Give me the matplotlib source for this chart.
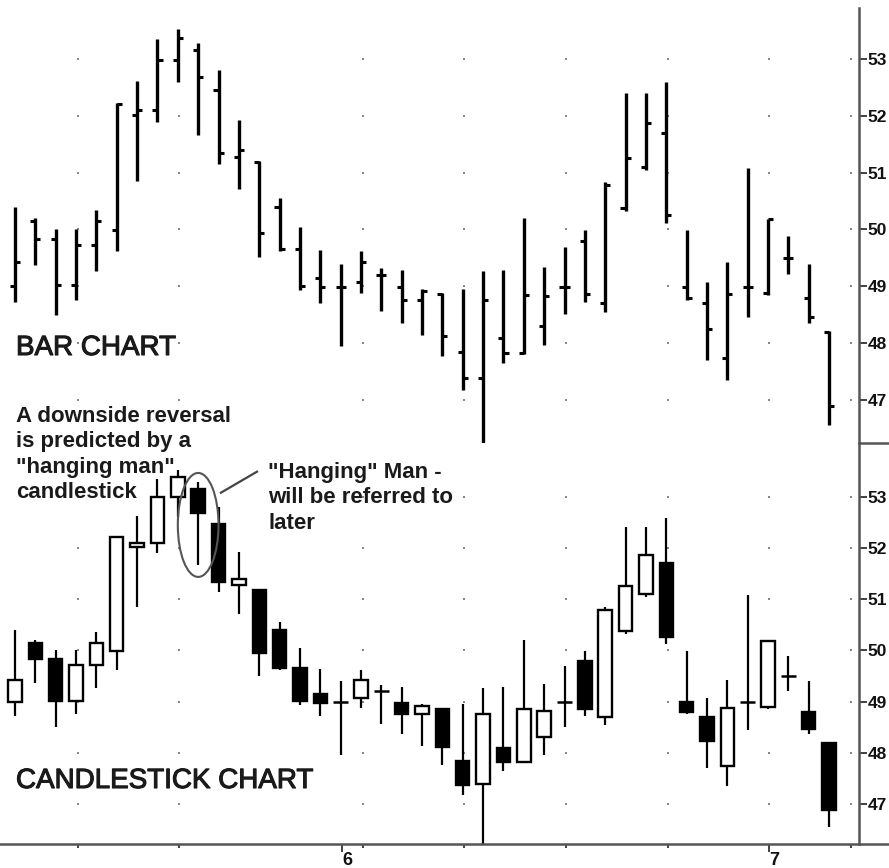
import numpy as np
import matplotlib
matplotlib.use('Agg')
import matplotlib.pyplot as plt
import matplotlib.patheffects as pe
from matplotlib.patches import Rectangle, Ellipse
from matplotlib.lines import Line2D

plt.rcParams['font.family'] = ['Liberation Sans', 'DejaVu Sans']

# daily prices
opens = [49.00, 50.15, 49.83, 49.02, 49.72, 49.99, 52.01, 52.10, 52.99, 53.16,
         52.46, 51.27, 51.18, 50.39, 49.66, 49.15, 48.99, 49.08, 49.20, 48.98,
         48.75, 48.86, 47.84, 47.39, 48.09, 47.82, 48.30, 48.99, 49.80, 48.70,
         50.38, 51.10, 51.70, 48.99, 48.70, 47.74, 48.99, 48.89, 49.50, 48.79,
         48.19]
highs = [50.39, 50.20, 50.00, 50.00, 50.35, 52.22, 52.62, 53.35, 53.53, 53.29,
         52.80, 51.93, 51.20, 50.55, 50.04, 49.64, 49.40, 49.62, 49.33, 49.29,
         48.95, 48.88, 48.96, 49.27, 49.29, 50.20, 49.34, 49.69, 49.99, 50.84,
         52.41, 52.41, 52.59, 49.99, 49.08, 49.43, 51.08, 50.19, 49.89, 49.40,
         48.22]
lows = [48.72, 49.37, 48.50, 48.76, 49.27, 49.62, 50.85, 51.90, 52.60, 51.67,
        51.15, 50.72, 49.51, 49.62, 48.94, 48.71, 47.95, 48.88, 48.57, 48.36,
        48.14, 47.77, 47.18, 46.00, 47.65, 47.81, 47.96, 48.51, 48.72, 48.54,
        50.33, 51.05, 50.12, 48.76, 47.70, 47.35, 48.45, 48.85, 49.21, 48.36,
        46.55]
closes = [49.43, 49.83, 49.02, 49.72, 50.15, 52.21, 52.10, 52.99, 53.38, 52.68,
          51.34, 51.40, 49.94, 49.65, 49.01, 48.98, 48.99, 49.43, 49.20, 48.75,
          48.91, 48.12, 47.38, 48.76, 47.83, 48.85, 48.82, 48.99, 48.86, 50.78,
          51.25, 51.87, 50.26, 48.79, 48.24, 48.87, 48.99, 50.19, 49.50, 48.46,
          46.89]
days = np.arange(len(opens))

price_ticks = [47, 48, 49, 50, 51, 52, 53]
grid_x = [3.1, 8.06, 17.1, 22.06, 27.08, 32.09, 37.05, 41.08]
month_ticks = [16.07, 37.05]
month_labels = ['6', '7']

W, H = 889, 868
fig = plt.figure(figsize=(W / 100, H / 100), dpi=100)


def px_box(x0, y0, x1, y1):
    return [x0 / W, 1 - y1 / H, (x1 - x0) / W, (y1 - y0) / H]


ax1 = fig.add_axes(px_box(0, 8, 859, 443))
ax2 = fig.add_axes(px_box(0, 443, 859, 844))
ax1.set_ylim(46.24, 53.90)
ax2.set_ylim(46.22, 54.05)

for ax in (ax1, ax2):
    ax.set_xlim(-0.737, 41.47)
    for s in ('top', 'left', 'bottom'):
        ax.spines[s].set_visible(False)
    ax.spines['right'].set_color('#555555')
    ax.spines['right'].set_linewidth(1.8)
    ax.yaxis.tick_right()
    ax.set_yticks(price_ticks)
    ax.set_yticklabels([str(t) for t in price_ticks], fontweight='bold')
    ax.tick_params(axis='y', direction='out', length=6, width=1.3,
                   color='#333333', labelsize=12.5, pad=0, labelcolor='#111111')
    gx, gy = np.meshgrid(grid_x, price_ticks)
    ax.scatter(gx.ravel(), gy.ravel(), s=2.5, marker='s', color='#888888',
               lw=0, zorder=1)

ax1.set_xticks([])

# bar chart
ax1.vlines(days, lows, highs, color='black', lw=2.4, zorder=3)
ax1.hlines(opens, days - 0.25, days, color='black', lw=2.2, zorder=3)
ax1.hlines(closes, days, days + 0.25, color='black', lw=2.2, zorder=3)

# candlestick chart
body_w = 0.66
ax2.vlines(days, lows, highs, color='black', lw=1.6, zorder=2)
for i in days:
    o, c = opens[i], closes[i]
    if abs(c - o) < 0.02:
        ax2.hlines(o, i - 0.36, i + 0.36, color='black', lw=1.8, zorder=3)
    else:
        fc = 'white' if c > o else 'black'
        ax2.add_patch(Rectangle((i - body_w / 2, min(o, c)), body_w, abs(c - o),
                                facecolor=fc, edgecolor='black', lw=1.7, zorder=3))

ax2.spines['bottom'].set_visible(True)
ax2.spines['bottom'].set_color('#555555')
ax2.spines['bottom'].set_linewidth(1.8)
ax2.set_xticks(month_ticks)
ax2.set_xticklabels(month_labels, fontweight='bold')
for lab in ax2.get_xticklabels():
    lab.set_horizontalalignment('left')
ax2.set_xticks(grid_x, minor=True)
ax2.tick_params(axis='x', which='major', direction='out', length=6, width=1.3,
                color='#333333', labelsize=13, pad=0, labelcolor='#111111')
ax2.tick_params(axis='x', which='minor', direction='out', length=3, width=1.3,
                color='#333333')

# lines to the right of the price axis
fig.add_artist(Line2D([859 / W, 1], [1 - 443 / H, 1 - 443 / H],
                      color='#555555', lw=1.8))
fig.add_artist(Line2D([859 / W, 1], [1 - 844 / H, 1 - 844 / H],
                      color='#555555', lw=1.8))

# ellipse around the hanging man
ax2.add_patch(Ellipse((9.0, 52.45), 2.0, 2.03, fill=False, edgecolor='#555555',
                      lw=1.5, zorder=4))
ax2.plot([10.12, 11.89], [53.08, 53.49], color='#444444', lw=1.6, zorder=4)

txt = '#1a1a1a'
heavy = [pe.withStroke(linewidth=0.8, foreground=txt)]
fig.text(16 / W, 1 - 355 / H, 'BAR CHART', fontsize=20, color=txt,
         va='baseline', ha='left', path_effects=heavy)
fig.text(16 / W, 1 - 788 / H, 'CANDLESTICK CHART', fontsize=20, color=txt,
         va='baseline', ha='left', path_effects=heavy)
fig.text(16 / W, 1 - 406 / H,
         'A downside reversal\nis predicted by a\n"hanging man"\ncandlestick',
         fontsize=16, fontweight='bold', color=txt, va='top', ha='left',
         linespacing=1.27)
fig.text(268 / W, 1 - 462 / H,
         '"Hanging" Man -\nwill be referred to\nlater',
         fontsize=16, fontweight='bold', color=txt, va='top', ha='left',
         linespacing=1.27)

fig.savefig('out.png', dpi=100, facecolor='white')
